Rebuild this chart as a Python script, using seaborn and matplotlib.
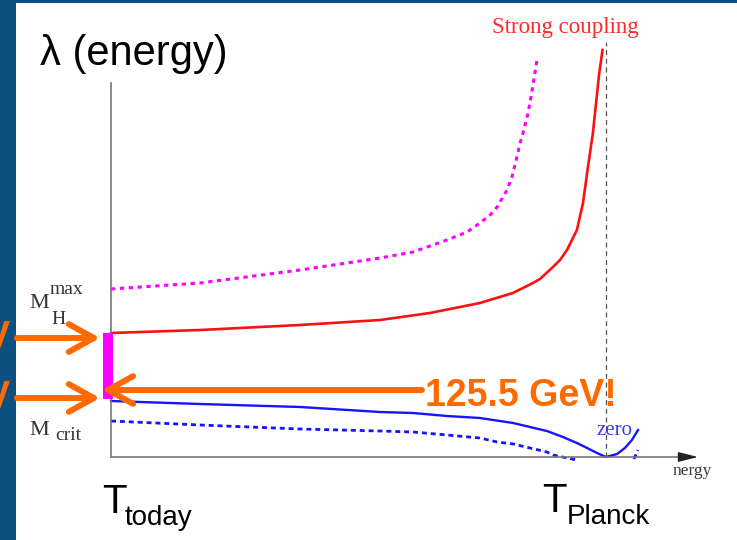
import matplotlib
matplotlib.use("Agg")
import matplotlib.pyplot as plt
import seaborn as sns

# Running Higgs quartic coupling lambda versus log10(E / GeV)
red_x = [2.00, 5.06, 8.49, 11.24, 12.95, 14.67, 15.80, 16.49, 16.73, 17.18, 17.42,
         17.66, 18.00, 18.21, 18.38, 18.55, 18.67, 18.76, 18.88]
red_lam = [0.124, 0.127, 0.132, 0.137, 0.144, 0.154, 0.164, 0.174, 0.178, 0.190, 0.197,
           0.207, 0.227, 0.254, 0.290, 0.324, 0.357, 0.382, 0.407]

mag_x = [2.00, 5.06, 8.49, 11.24, 12.37, 13.54, 14.23, 14.67, 15.02, 15.26, 15.46,
         15.60, 15.77, 15.94, 16.05, 16.15, 16.29, 16.39, 16.63]
mag_lam = [0.168, 0.174, 0.187, 0.199, 0.205, 0.217, 0.225, 0.234, 0.242, 0.250, 0.260,
           0.267, 0.280, 0.300, 0.314, 0.324, 0.340, 0.354, 0.397]

blue_x = [2.00, 5.06, 8.49, 11.24, 12.37, 13.54, 14.67, 15.81, 16.39, 16.97, 17.52,
          18.00, 18.35, 18.69, 19.00, 19.38, 19.65, 19.89, 20.10]
blue_lam = [0.056, 0.053, 0.050, 0.045, 0.044, 0.041, 0.039, 0.034, 0.030, 0.026, 0.020,
            0.014, 0.009, 0.004, 0.000, 0.003, 0.009, 0.017, 0.027]

bdash_x = [2.00, 5.06, 8.49, 11.24, 12.37, 13.54, 14.67, 15.26, 15.81, 16.39, 16.97,
           17.18, 18.00]
bdash_lam = [0.036, 0.032, 0.028, 0.026, 0.025, 0.022, 0.019, 0.015, 0.013, 0.009, 0.005,
             0.002, -0.003]
bdash2_x = [19.96, 20.10]
bdash2_lam = [-0.002, 0.007]

x_today = 2.0
x_planck = 19.0
x_axis_end = 22.16
lam_axis_top = 0.374
band_low, band_high = 0.058, 0.124
higgs_label = "125.5 GeV!"

ORANGE = "#ff6a00"
SANS = "Liberation Sans"
SERIF = "Liberation Serif"

fig = plt.figure(figsize=(7.37, 5.40), dpi=100, facecolor="#0c5080")
ax = fig.add_axes([16 / 737, 0.0, 721 / 737, 1 - 3 / 540])
ax.set_facecolor("white")
ax.set_xlim(-1.263, 23.499)
ax.set_ylim(-0.083, 0.454)
ax.set_xticks([])
ax.set_yticks([])

# axes drawn as spines through the origin
for side in ("top", "right"):
    ax.spines[side].set_visible(False)
ax.spines["left"].set_position(("data", x_today))
ax.spines["left"].set_bounds(0, lam_axis_top)
ax.spines["bottom"].set_position(("data", 0))
ax.spines["bottom"].set_bounds(x_today, x_axis_end - 0.3)
for side in ("left", "bottom"):
    ax.spines[side].set_color("#777777")
    ax.spines[side].set_linewidth(1.2)
ax.annotate("", xy=(x_axis_end, 0), xytext=(x_axis_end - 0.6, 0),
            arrowprops=dict(arrowstyle="-|>,head_length=0.6,head_width=0.15",
                            color="#222222", lw=1.0, shrinkA=0, shrinkB=0,
                            mutation_scale=20))

# Planck scale marker
ax.plot([x_planck, x_planck], [0, 0.415], color="#555555", lw=0.9,
        linestyle=(0, (4, 3)))

line_kw = dict(ax=ax, sort=False, estimator=None, solid_joinstyle="round",
               dash_joinstyle="round")
sns.lineplot(x=red_x, y=red_lam, color="#ff1010", lw=1.9, **line_kw)
sns.lineplot(x=mag_x, y=mag_lam, color="#ff00ff", lw=2.2,
             linestyle=(0, (1.4, 1.5)), **line_kw)
sns.lineplot(x=blue_x, y=blue_lam, color="#1515ff", lw=1.7, **line_kw)
sns.lineplot(x=bdash_x, y=bdash_lam, color="#1515ff", lw=2.0,
             linestyle=(0, (1.8, 1.4)), **line_kw)
sns.lineplot(x=bdash2_x, y=bdash2_lam, color="#1515ff", lw=2.0,
             linestyle=(0, (1.8, 1.4)), **line_kw)

# allowed Higgs mass band at low energy
ax.bar(1.897, band_high - band_low, bottom=band_low, width=0.343,
       color="#ff00ff", zorder=3)

arrow_style = dict(arrowstyle="->,head_length=0.9,head_width=0.5", color=ORANGE,
                   lw=4.3, shrinkA=0, shrinkB=0, mutation_scale=20)
for lam in (0.119, 0.059):
    ax.annotate("", xy=(1.62, lam), xytext=(-1.228, lam), arrowprops=arrow_style,
                annotation_clip=False, zorder=4)
    ax.text(-1.434, lam, "GeV", ha="right", va="center", fontsize=27,
            fontweight="bold", color=ORANGE, family=SANS, clip_on=False)
ax.annotate("", xy=(1.69, 0.067), xytext=(12.68, 0.067), arrowprops=arrow_style,
            zorder=4)
ax.text(12.78, 0.051, higgs_label, ha="left", va="baseline", fontsize=27,
        fontweight="bold", color=ORANGE, family=SANS, zorder=5)

# labels
ax.text(-0.438, 0.403, "λ (energy)", ha="left", va="center", fontsize=30,
        family=SANS, color="black")
ax.text(15.08, 0.424, "Strong coupling", ha="left", va="baseline", fontsize=16.5,
        family=SERIF, color="#ff2a2a")
ax.text(18.69, 0.022, "zero", ha="left", va="baseline", fontsize=15,
        family=SERIF, color="#3b3bf0")
ax.text(21.30, -0.018, "nergy", ha="left", va="baseline", fontsize=12.5,
        family=SERIF, color="#3a3a3a")

ax.text(-0.816, 0.149, "M", ha="left", va="baseline", fontsize=16,
        family=SERIF, color="#333333")
ax.text(-0.095, 0.163, "max", ha="left", va="baseline", fontsize=14,
        family=SERIF, color="#333333")
ax.text(-0.06, 0.133, "H", ha="left", va="baseline", fontsize=14,
        family=SERIF, color="#333333")
ax.text(-0.816, 0.022, "M", ha="left", va="baseline", fontsize=16,
        family=SERIF, color="#333333")
ax.text(0.077, 0.017, "crit", ha="left", va="baseline", fontsize=14,
        family=SERIF, color="#333333")

ax.text(1.69, -0.056, "T", ha="left", va="baseline", fontsize=29, family=SANS)
ax.text(2.48, -0.068, "today", ha="left", va="baseline", fontsize=20, family=SANS)
ax.text(16.80, -0.055, "T", ha="left", va="baseline", fontsize=29, family=SANS)
ax.text(17.66, -0.067, "Planck", ha="left", va="baseline", fontsize=20, family=SANS)

fig.savefig("out.png", dpi=100, facecolor=fig.get_facecolor())
